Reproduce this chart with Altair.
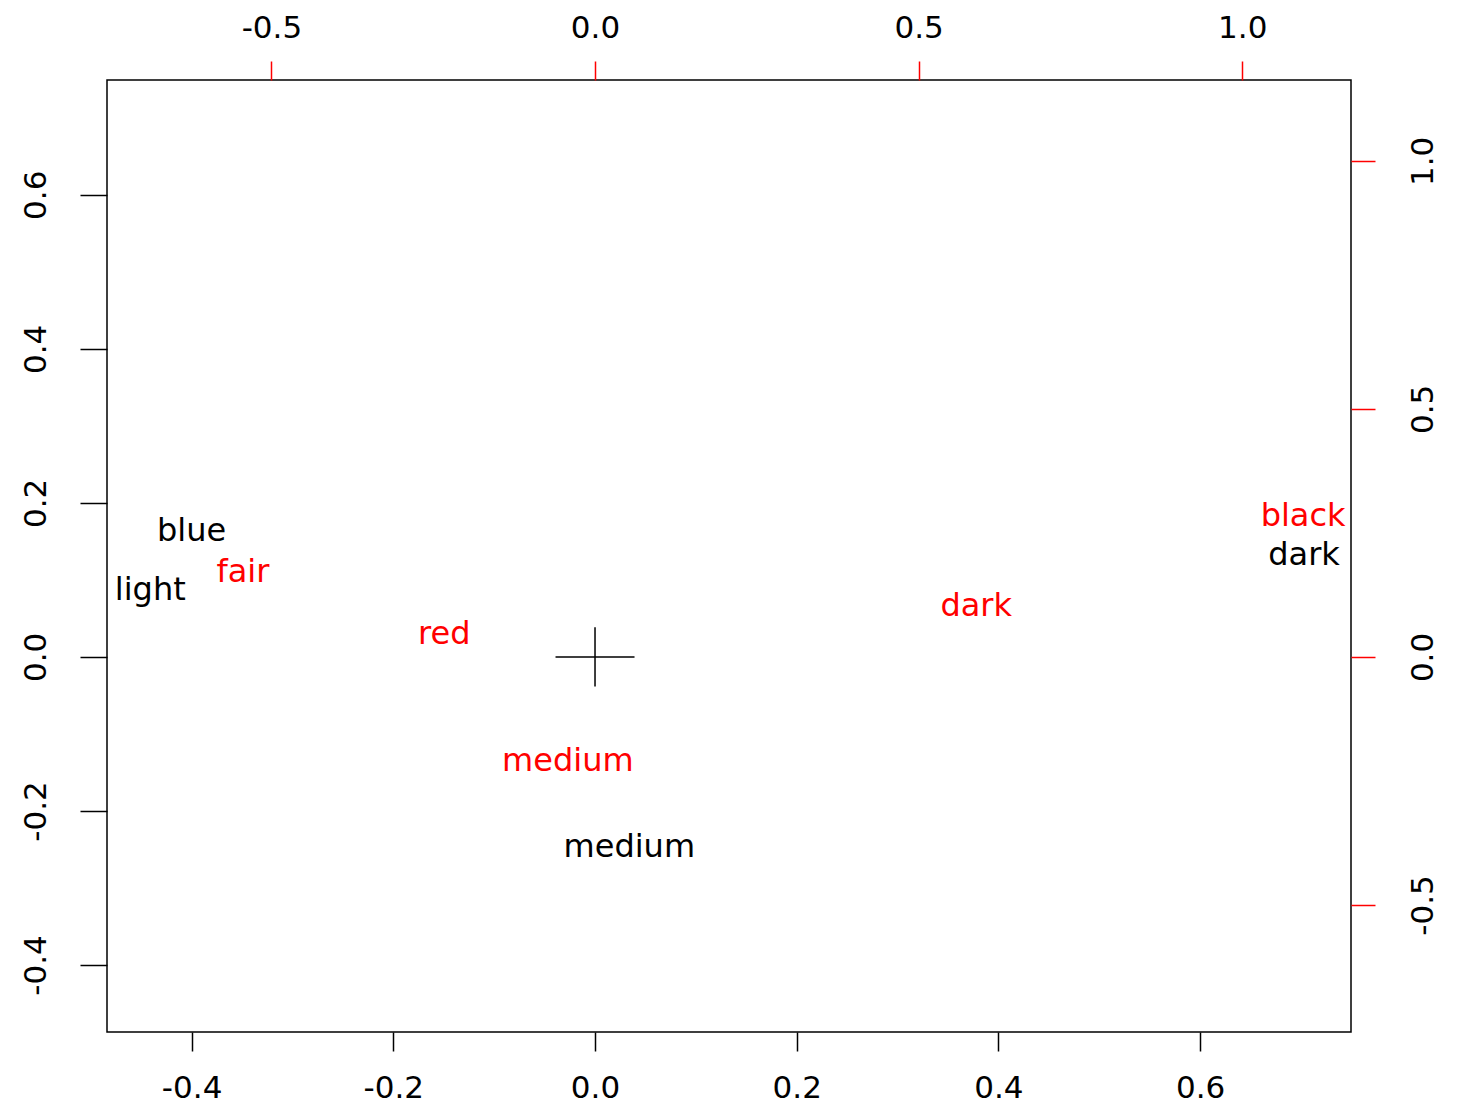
import altair as alt
import pandas as pd

# Row (eye colour) coordinates - primary axes (bottom / left)
row_labels = ["blue", "light", "medium", "dark"]
row_dim1 = [-0.400, -0.441, 0.034, 0.703]
row_dim2 = [0.165, 0.088, -0.245, 0.134]

# Column (hair colour) coordinates - secondary axes (top / right)
col_labels = ["fair", "red", "medium", "dark", "black"]
col_dim1 = [-0.544, -0.233, -0.042, 0.589, 1.094]
col_dim2 = [0.174, 0.048, -0.208, 0.104, 0.286]

# origin marker
origin_x = [0.0]
origin_y = [0.0]

bottom_ticks = [-0.4, -0.2, 0.0, 0.2, 0.4, 0.6]
left_ticks = [-0.4, -0.2, 0.0, 0.2, 0.4, 0.6]
top_ticks = [-0.5, 0.0, 0.5, 1.0]
right_ticks = [-0.5, 0.0, 0.5, 1.0]

x1_dom = [-0.4839, 0.7496]
y1_dom = [-0.487, 0.749]
x2_dom = [-0.754, 1.168]
y2_dom = [-0.756, 1.163]

rows = pd.DataFrame({"label": row_labels, "d1": row_dim1, "d2": row_dim2})
cols = pd.DataFrame({"label": col_labels, "d1": col_dim1, "d2": col_dim2})
orig = pd.DataFrame({"d1": origin_x, "d2": origin_y})

FONT = "DejaVu Sans"
FS = 32
AFS = 31
lab_expr = "(datum.value < 0 ? '-' : '') + format(abs(datum.value), '.1f')"

x1_axis = alt.Axis(orient="bottom", values=bottom_ticks, title=None, grid=False, domain=False,
                   tickSize=19, tickWidth=1.5, tickColor="black", labelFont=FONT, labelFontSize=AFS,
                   labelColor="black", labelPadding=22, labelExpr=lab_expr, labelFlush=False)
y1_axis = alt.Axis(orient="left", values=left_ticks, title=None, grid=False, domain=False,
                   tickSize=27, tickWidth=1.5, tickColor="black", labelFont=FONT, labelFontSize=AFS,
                   labelColor="black", labelPadding=28, labelAngle=270, labelAlign="center",
                   labelBaseline="bottom", labelExpr=lab_expr, labelFlush=False)
x2_axis = alt.Axis(orient="top", values=top_ticks, title=None, grid=False, domain=False,
                   tickSize=19, tickWidth=1.5, tickColor="#FF0000", labelFont=FONT, labelFontSize=AFS,
                   labelColor="black", labelPadding=17, labelExpr=lab_expr, labelFlush=False)
y2_axis = alt.Axis(orient="right", values=right_ticks, title=None, grid=False, domain=False,
                   tickSize=24, tickWidth=1.5, tickColor="#FF0000", labelFont=FONT, labelFontSize=AFS,
                   labelColor="black", labelPadding=33, labelAngle=270, labelAlign="center",
                   labelBaseline="top", labelExpr=lab_expr, labelFlush=False)

x1_scale = alt.Scale(domain=x1_dom, nice=False, zero=False)
y1_scale = alt.Scale(domain=y1_dom, nice=False, zero=False)

row_text = alt.Chart(rows).mark_text(font=FONT, fontSize=FS, color="black", align="center",
                                     baseline="alphabetic", dy=11).encode(
    x=alt.X("d1:Q", scale=x1_scale, axis=x1_axis),
    y=alt.Y("d2:Q", scale=y1_scale, axis=y1_axis),
    text="label:N",
)

cross = alt.Chart(orig).mark_point(shape="M-1,0L1,0M0,-0.75L0,0.75", size=6241, filled=False,
                                   stroke="black", strokeWidth=1.5, opacity=1).encode(
    x=alt.X("d1:Q", scale=x1_scale, axis=x1_axis),
    y=alt.Y("d2:Q", scale=y1_scale, axis=y1_axis),
)

col_text = alt.Chart(cols).mark_text(font=FONT, fontSize=FS, color="#FF0000", align="center",
                                     baseline="alphabetic", dy=11).encode(
    x=alt.X("d1:Q", scale=alt.Scale(domain=x2_dom, nice=False, zero=False), axis=x2_axis),
    y=alt.Y("d2:Q", scale=alt.Scale(domain=y2_dom, nice=False, zero=False), axis=y2_axis),
    text="label:N",
)

chart = alt.layer(alt.layer(row_text, cross), col_text).resolve_scale(
    x="independent", y="independent"
).properties(
    width=1244, height=952,
    autosize=alt.AutoSizeParams(type="none"),
    padding={"left": 99, "top": 72, "right": 103, "bottom": 76},
    background="white",
).configure_view(stroke="black", strokeWidth=1.5)

chart.save("out.html", embed_options={"renderer": "svg", "actions": False})
